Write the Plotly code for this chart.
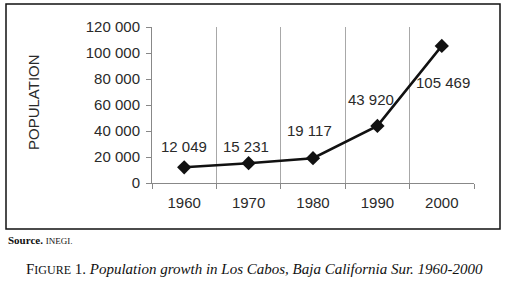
import plotly.graph_objects as go

years = ["1960", "1970", "1980", "1990", "2000"]
population = [12049, 15231, 19117, 43920, 105469]
label_text = ["12 049", "15 231", "19 117", "43 920", "105 469"]
y_tickvals = [0, 20000, 40000, 60000, 80000, 100000, 120000]
y_ticktext = ["0", "20 000", "40 000", "60 000", "80 000", "100 000", "120 000"]

# label offsets (pixels) to mimic the original label placement
label_dx = [0, -3, -4, -6, 1]
label_dy = [21, 17, 28, 26, -37]

W, H = 506, 282
L, R, T, B = 152, 474, 27, 183
PW, PH = R - L, B - T

FONT = "Arial, Liberation Sans, sans-serif"
TXT = "#2a2a2a"
SERIF = "Liberation Serif, Times New Roman, serif"

fig = go.Figure()
fig.add_trace(go.Scatter(
    x=years, y=population, mode="lines+markers",
    line=dict(color="#111111", width=2.5),
    marker=dict(symbol="diamond", size=11, color="#111111"),
    showlegend=False, hoverinfo="skip",
))

for i in range(len(years)):
    fig.add_annotation(
        x=i, y=population[i], text=label_text[i], showarrow=False,
        xshift=label_dx[i], yshift=label_dy[i],
        font=dict(family=FONT, size=15, color=TXT),
    )

# Y-axis title
fig.add_annotation(
    xref="paper", yref="paper", x=(33 - L) / PW, y=(B - 102) / PH,
    xanchor="center", yanchor="middle",
    text="POPULATION", textangle=-90, showarrow=False,
    font=dict(family=FONT, size=15, color=TXT),
)

# outer frame
fig.add_shape(
    type="rect", xref="paper", yref="paper",
    x0=(6 - L) / PW, x1=(500 - L) / PW, y0=(B - 229) / PH, y1=(B - 4) / PH,
    line=dict(color="#111111", width=1.5), fillcolor="rgba(0,0,0,0)",
)

# source line
fig.add_annotation(
    xref="paper", yref="paper", x=(6 - L) / PW, y=(B - 240) / PH,
    xanchor="left", yanchor="middle", showarrow=False,
    text="<b>Source.</b> <span style='font-size:9px'>INEGI.</span>",
    font=dict(family=SERIF, size=11, color="#111111"),
)

# caption
fig.add_annotation(
    xref="paper", yref="paper", x=(254 - L) / PW, y=(B - 269) / PH,
    xanchor="center", yanchor="middle", showarrow=False,
    text="F<span style='font-size:12px'>IGURE</span> 1. <i>Population growth in Los Cabos, Baja California Sur. 1960-2000</i>",
    font=dict(family=SERIF, size=15, color="#111111"),
)

fig.update_xaxes(
    type="category", range=[-0.5, 4.5], tickson="boundaries",
    showgrid=True, gridcolor="#a8a8a8", gridwidth=1,
    showline=True, linecolor="#888888", linewidth=1,
    ticks="outside", ticklen=5, tickcolor="#888888",
    tickfont=dict(family=FONT, size=15, color=TXT),
    ticklabelstandoff=6,
    zeroline=False, fixedrange=True,
)
fig.update_yaxes(
    range=[0, 120000], tickvals=y_tickvals, ticktext=y_ticktext,
    showgrid=False, zeroline=False,
    showline=True, linecolor="#888888", linewidth=1,
    ticks="outside", ticklen=5, tickcolor="#888888",
    tickfont=dict(family=FONT, size=15, color=TXT),
    ticklabelstandoff=3,
    fixedrange=True,
)

fig.update_layout(
    width=W, height=H,
    margin=dict(l=L, r=W - R, t=T, b=H - B, pad=0),
    paper_bgcolor="white", plot_bgcolor="white",
)

fig.write_html(
    "out.html",
    config={"displayModeBar": False, "staticPlot": True},
    post_script="document.body.style.margin='0';document.body.style.overflow='hidden';",
)
